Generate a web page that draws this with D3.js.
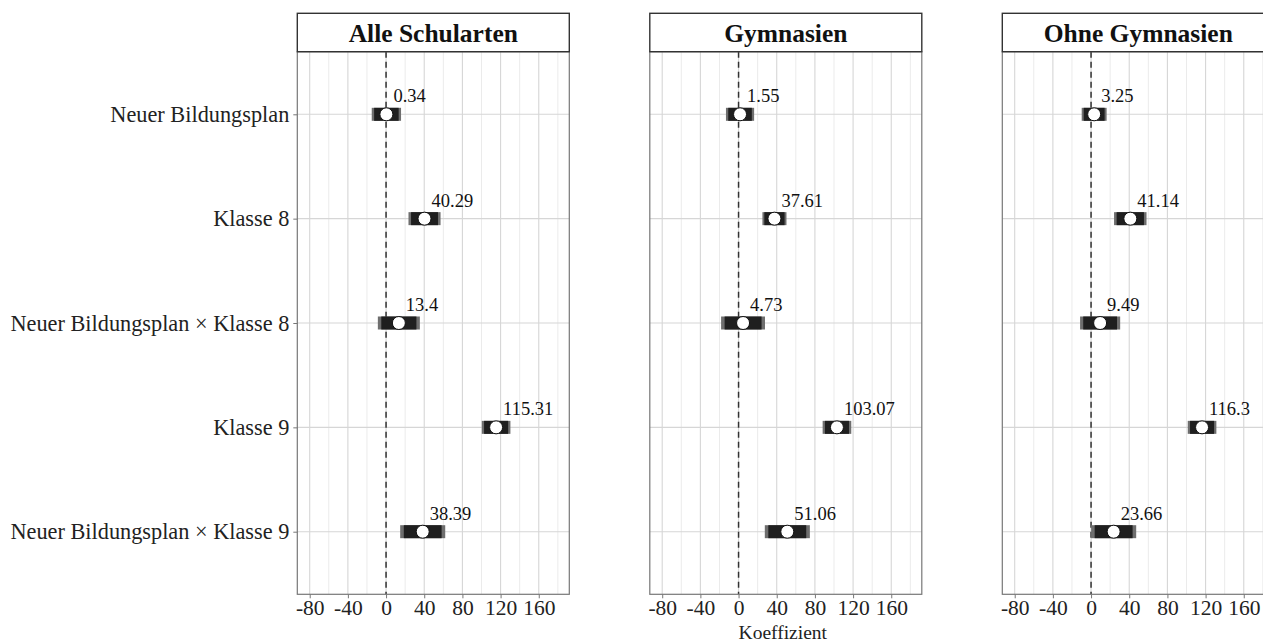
<!DOCTYPE html>
<html>
<head>
<meta charset="utf-8">
<script src="https://cdn.jsdelivr.net/npm/d3@7"></script>
<style>
  body { margin: 0; background: #fff; }
  svg { font-family: "Liberation Serif", "Times New Roman", serif; display: block; }
</style>
</head>
<body>
<svg></svg>
<script>
// categories (top to bottom) and facet names
const terms = ["Neuer Bildungsplan", "Klasse 8", "Neuer Bildungsplan × Klasse 8", "Klasse 9", "Neuer Bildungsplan × Klasse 9"];
const panels = ["Alle Schularten", "Gymnasien", "Ohne Gymnasien"];
const xTicks = [-80, -40, 0, 40, 80, 120, 160];

// point estimates per facet
const estAlle = [0.34, 40.29, 13.4, 115.31, 38.39];
const estGym = [1.55, 37.61, 4.73, 103.07, 51.06];
const estOhne = [3.25, 41.14, 9.49, 116.3, 23.66];

// outer interval (95%)
const lo95Alle = [-15, 23.5, -8.6, 100.3, 14.8];
const hi95Alle = [15.7, 57.1, 35.4, 130.3, 62];
const lo95Gym = [-13.2, 25, -18.3, 88.1, 27.5];
const hi95Gym = [16.3, 50.2, 27.7, 118.1, 74.7];
const lo95Ohne = [-9.8, 24.1, -11.5, 101.3, 0.1];
const hi95Ohne = [16.3, 58.1, 30.5, 131.3, 47.3];

// inner interval (90%)
const lo90Alle = [-12.5, 26.2, -5, 102.7, 18.6];
const hi90Alle = [13.2, 54.4, 31.8, 127.9, 58.2];
const lo90Gym = [-10.8, 27, -14.6, 90.5, 31.2];
const hi90Gym = [13.9, 48.2, 24.1, 115.7, 70.9];
const lo90Ohne = [-7.7, 26.8, -8.2, 103.7, 3.8];
const hi90Ohne = [14.2, 55.4, 27.2, 128.9, 43.5];

const est = [estAlle, estGym, estOhne];
const lo95 = [lo95Alle, lo95Gym, lo95Ohne];
const hi95 = [hi95Alle, hi95Gym, hi95Ohne];
const lo90 = [lo90Alle, lo90Gym, lo90Ohne];
const hi90 = [hi90Alle, hi90Gym, hi90Ohne];

const W = 1263, H = 643;
const svg = d3.select("svg").attr("width", W).attr("height", H);

const panelW = 272;
const panelStep = 352.5;
const firstLeft = 297.3;
const headTop = 13.3, plotTop = 51.7, plotBottom = 594.3;

const x = d3.scaleLinear().domain([-93, 192]).range([0, panelW]);
const y = d3.scalePoint().domain(terms).range([plotTop, plotBottom]).padding(0.6);
const minorTicks = d3.range(-80, 200, 20);

panels.forEach((name, p) => {
  const g = svg.append("g")
    .attr("class", "panel")
    .attr("transform", `translate(${firstLeft + p * panelStep}, 0)`);

  // minor grid
  g.selectAll("line.minor")
    .data(minorTicks.filter(t => t % 40 !== 0))
    .enter().append("line")
    .attr("x1", d => x(d)).attr("x2", d => x(d))
    .attr("y1", plotTop).attr("y2", plotBottom)
    .attr("stroke", "#ebebeb").attr("stroke-width", 1);

  // major grid
  g.selectAll("line.major")
    .data(xTicks)
    .enter().append("line")
    .attr("x1", d => x(d)).attr("x2", d => x(d))
    .attr("y1", plotTop).attr("y2", plotBottom)
    .attr("stroke", "#d6d6d6").attr("stroke-width", 1.1);

  g.selectAll("line.hgrid")
    .data(terms)
    .enter().append("line")
    .attr("x1", 0).attr("x2", panelW)
    .attr("y1", d => y(d)).attr("y2", d => y(d))
    .attr("stroke", "#d6d6d6").attr("stroke-width", 1.1);

  // zero line
  g.append("line")
    .attr("x1", x(0)).attr("x2", x(0))
    .attr("y1", plotTop).attr("y2", plotBottom)
    .attr("stroke", "#333").attr("stroke-width", 1.5)
    .attr("stroke-dasharray", "6,4");

  const rows = terms.map((t, i) => ({
    term: t, est: est[p][i],
    lo95: lo95[p][i], hi95: hi95[p][i],
    lo90: lo90[p][i], hi90: hi90[p][i]
  }));

  g.selectAll("rect.ci95")
    .data(rows).enter().append("rect")
    .attr("x", d => x(d.lo95))
    .attr("width", d => x(d.hi95) - x(d.lo95))
    .attr("y", d => y(d.term) - 6.5)
    .attr("height", 13)
    .attr("fill", "#6e6e6e");

  g.selectAll("rect.ci90")
    .data(rows).enter().append("rect")
    .attr("x", d => x(d.lo90))
    .attr("width", d => x(d.hi90) - x(d.lo90))
    .attr("y", d => y(d.term) - 6.5)
    .attr("height", 13)
    .attr("fill", "#1f1f1f");

  g.selectAll("circle")
    .data(rows).enter().append("circle")
    .attr("cx", d => x(d.est))
    .attr("cy", d => y(d.term))
    .attr("r", 6.5)
    .attr("fill", "#fff")
    .attr("stroke", "#111").attr("stroke-width", 1);

  g.selectAll("text.val")
    .data(rows).enter().append("text")
    .attr("x", d => x(d.est) + 7)
    .attr("y", d => y(d.term) - 12)
    .attr("font-size", 18.5)
    .attr("fill", "#111")
    .text(d => String(d.est));

  // panel border
  g.append("rect")
    .attr("x", 0).attr("y", plotTop)
    .attr("width", panelW).attr("height", plotBottom - plotTop)
    .attr("fill", "none").attr("stroke", "#777").attr("stroke-width", 1.2);

  // strip
  g.append("rect")
    .attr("x", 0).attr("y", headTop)
    .attr("width", panelW).attr("height", plotTop - headTop)
    .attr("fill", "#fff").attr("stroke", "#333").attr("stroke-width", 1.4);
  g.append("text")
    .attr("x", panelW / 2).attr("y", 41.5)
    .attr("text-anchor", "middle")
    .attr("font-size", 25.5).attr("font-weight", "bold")
    .attr("fill", "#111")
    .text(name);

  // x axis
  const ax = g.append("g")
    .attr("transform", `translate(0, ${plotBottom})`)
    .call(d3.axisBottom(x).tickValues(xTicks).tickSize(4).tickPadding(1));
  ax.select(".domain").remove();
  ax.selectAll(".tick line").attr("stroke", "#777");
  ax.selectAll(".tick text")
    .attr("font-size", 21.5)
    .attr("font-family", "Liberation Serif, Times New Roman, serif")
    .attr("fill", "#222")
    .text(d => d < 0 ? "-" + Math.abs(d) : d);

  if (p === 0) {
    const ay = g.append("g")
      .call(d3.axisLeft(y).tickSize(4).tickPadding(4));
    ay.select(".domain").remove();
    ay.selectAll(".tick line").attr("stroke", "#777");
    ay.selectAll(".tick text")
      .attr("font-size", 22.3)
      .attr("font-family", "Liberation Serif, Times New Roman, serif")
      .attr("fill", "#222");
  }
  if (p === 1) {
    g.append("text")
      .attr("x", panelW / 2 - 3).attr("y", 638.5)
      .attr("text-anchor", "middle")
      .attr("font-size", 19.5)
      .attr("fill", "#222")
      .text("Koeffizient");
  }
});
</script>
</body>
</html>
